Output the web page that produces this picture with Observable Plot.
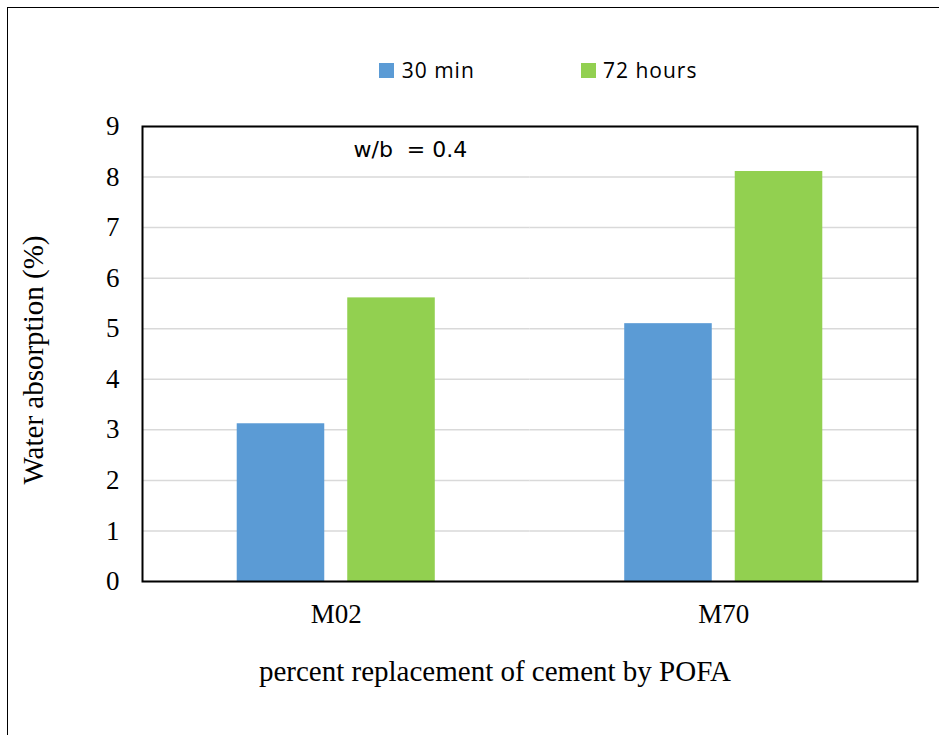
<!DOCTYPE html>
<html>
<head>
<meta charset="utf-8">
<script src="https://cdn.jsdelivr.net/npm/d3@7"></script>
<script src="https://cdn.jsdelivr.net/npm/@observablehq/plot@0.6"></script>
<style>
  html, body { margin: 0; padding: 0; background: #fff; }
  #wrap { position: relative; width: 939px; height: 735px; overflow: hidden; }
  #border { position: absolute; left: 7px; top: 7px; width: 1000px; height: 1000px;
            border: 1.5px solid #000; box-sizing: border-box; pointer-events: none; }
  #legend { position: relative; height: 100px; font-family: "Open Sans", sans-serif;
            font-size: 21px; letter-spacing: 1px; color: #000; }
  #legend .sw { position: absolute; top: 63px; width: 15px; height: 15px; }
  #legend .lb { position: absolute; top: 59.8px; line-height: 21px; white-space: nowrap; }
  #chart { position: relative; }
</style>
</head>
<body>
<div id="wrap">
  <div id="border"></div>
  <div id="legend"></div>
  <div id="chart"></div>
</div>
<script>
// ---- data ----
const categories = ["M02", "M70"];
const series = ["30 min", "72 hours"];
const values30min = [3.12, 5.10];
const values72h = [5.61, 8.11];
const yTicks = [0, 1, 2, 3, 4, 5, 6, 7, 8, 9];
const seriesColors = ["#5b9bd5", "#92d050"];
const yLabel = "Water absorption (%)";
const xLabel = "percent replacement of cement by POFA";
const note = "w/b\u00a0 = 0.4";

const rows = [];
categories.forEach((c, i) => {
  rows.push({cat: c, series: series[0], value: values30min[i]});
  rows.push({cat: c, series: series[1], value: values72h[i]});
});

// ---- legend (HTML, above the svg) ----
const legend = document.getElementById("legend");
const legendPos = [[379, 401.7], [581, 603]];
series.forEach((s, i) => {
  const sw = document.createElement("div");
  sw.className = "sw";
  sw.style.left = legendPos[i][0] + "px";
  sw.style.background = seriesColors[i];
  legend.appendChild(sw);
  const lb = document.createElement("div");
  lb.className = "lb";
  lb.style.left = legendPos[i][1] + "px";
  lb.textContent = s;
  legend.appendChild(lb);
});

// ---- chart ----
const chart = Plot.plot({
  width: 939,
  height: 635,
  marginTop: 26,
  marginBottom: 154,
  marginLeft: 142,
  marginRight: 22,
  style: {
    fontFamily: "'Liberation Serif', 'Times New Roman', serif",
    fontSize: "27px",
    color: "#000",
    background: "transparent",
    overflow: "visible"
  },
  fx: { domain: categories, padding: 0, round: false, label: null, axis: null },
  x: { domain: series, paddingInner: 0.208, paddingOuter: 0.857, round: false, axis: null },
  y: { domain: [0, 9], label: null, axis: null },
  color: { domain: series, range: seriesColors },
  marks: [
    Plot.gridY(yTicks, { stroke: "#d9d9d9", strokeOpacity: 1, strokeWidth: 1.5 }),
    Plot.barY(rows, { fx: "cat", x: "series", y: "value", fill: "series" }),
    Plot.axisY(yTicks, { anchor: "left", tickSize: 0, tickPadding: 23, fontSize: 27, label: null,
                         tickFormat: d => String(d), facetAnchor: "left" }),
    Plot.axisFx({ anchor: "bottom", tickSize: 0, tickPadding: 22, fontSize: 27, label: null }),
    Plot.frame({ facet: "super", stroke: "#000", strokeWidth: 2 }),
    Plot.text([note], {
      fx: () => categories[0], frameAnchor: "top-left", textAnchor: "start", lineAnchor: "bottom",
      dx: 211, dy: 30, fontFamily: "'DejaVu Sans', sans-serif", fontSize: 22, fill: "#000"
    }),
    Plot.text([yLabel], {
      fx: () => categories[0], frameAnchor: "left", textAnchor: "middle", lineAnchor: "bottom",
      rotate: -90, dx: -100, dy: 6, fontSize: 29, fill: "#000"
    }),
    Plot.text([xLabel], {
      fx: () => categories[0], frameAnchor: "bottom-left", textAnchor: "middle", lineAnchor: "bottom",
      dx: 352.5, dy: 99, fontSize: 29, fill: "#000"
    })
  ]
});
document.getElementById("chart").appendChild(chart);
</script>
</body>
</html>
